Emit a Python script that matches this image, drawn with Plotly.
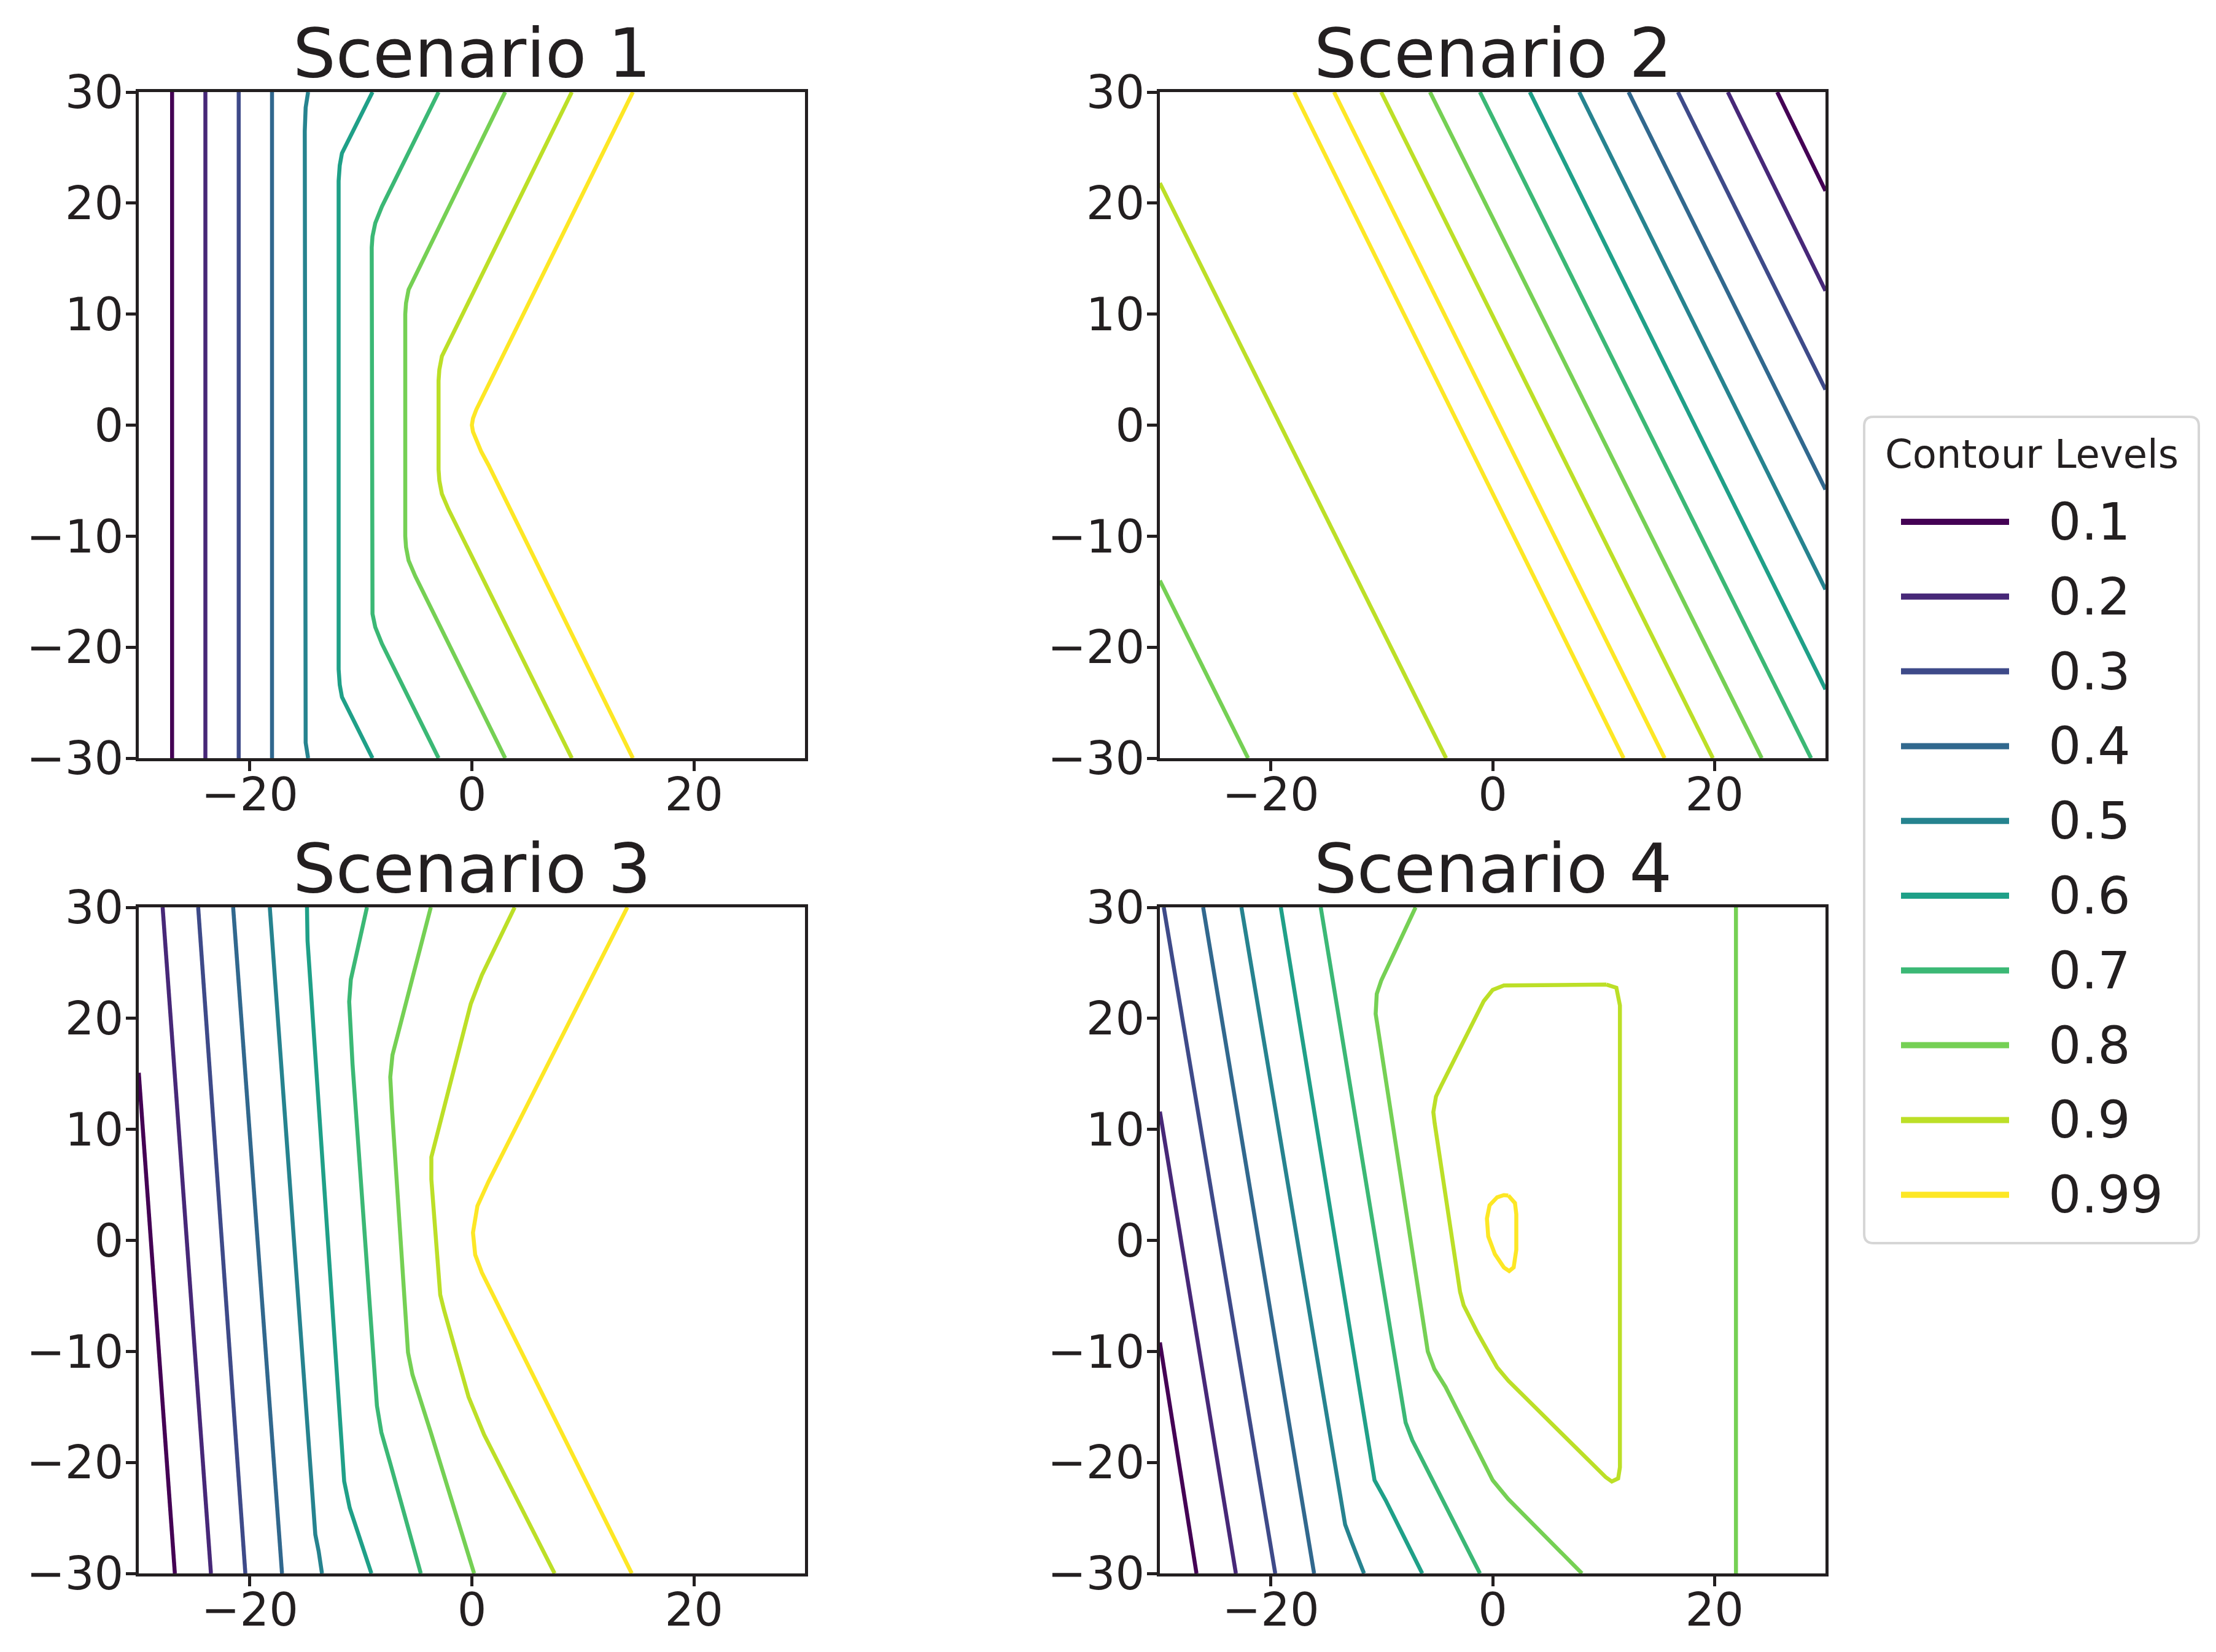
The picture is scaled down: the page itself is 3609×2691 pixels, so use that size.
import plotly.graph_objects as go

# ---------------- data ----------------
LEVELS = [0.1, 0.2, 0.3, 0.4, 0.5, 0.6, 0.7, 0.8, 0.9, 0.99]
LEVEL_LABELS = ["0.1", "0.2", "0.3", "0.4", "0.5", "0.6", "0.7", "0.8", "0.9", "0.99"]
LEGEND_TITLE = "Contour Levels"
TITLES = ["Scenario 1", "Scenario 2", "Scenario 3", "Scenario 4"]
X_TICK_VALUES = [-20, 0, 20]
X_TICK_TEXT = ["−20", "0", "20"]
Y_TICK_VALUES = [-30, -20, -10, 0, 10, 20, 30]
Y_TICK_TEXT = ["−30", "−20", "−10", "0", "10", "20", "30"]
AXIS_RANGE = [-30, 30]

# each contour path: (level, x values, y values)
SCENARIO_1 = [
    (0.1, [-27.0, -27.0], [30, -30]),
    (0.2, [-24.0, -24.0], [30, -30]),
    (0.3, [-21.0, -21.0], [30, -30]),
    (0.4, [-18.0, -18.0], [30, -30]),
    (0.5, [-14.75, -14.97, -15.05, -15.05, -14.97, -14.75], [30, 28.6, 26.5, -26.5, -28.6, -30]),
    (0.6, [-8.95, -11.7, -11.9, -12.0, -12.0, -11.9, -11.7, -8.95], [30, 24.5, 23.4, 22.0, -22.0, -23.4, -24.5, -30]),
    (0.7, [-3.0, -8.1, -8.7, -8.95, -9.02, -9.02, -8.95, -8.7, -8.1, -3.0], [30, 19.7, 18.2, 17.0, 16.0, -16.0, -17.0, -18.2, -19.7, -30]),
    (0.8, [3.0, -5.1, -5.7, -5.93, -6.0, -6.0, -5.93, -5.7, -5.1, 3.0], [30, 13.6, 12.2, 11.0, 10.0, -10.0, -11.0, -12.2, -13.6, -30]),
    (0.9, [9.0, -2.1, -2.7, -2.93, -3.0, -3.0, -2.93, -2.7, -2.1, 9.0], [30, 7.6, 6.2, 5.0, 4.0, -4.0, -5.0, -6.2, -7.6, -30]),
    (0.99, [14.5, 1.5, 0.85, 0.4, 0.1, 0.0, 0.1, 0.4, 0.85, 1.5, 14.5], [30, 3.6, 2.4, 1.4, 0.6, 0.0, -0.6, -1.4, -2.4, -3.6, -30]),
]

SCENARIO_2 = [
    (0.99, [-17.9, 11.8], [30, -30]),
    (0.99, [-14.3, 15.5], [30, -30]),
    (0.9, [-30.0, -4.2], [21.8, -30]),
    (0.9, [-10.05, 19.85], [30, -30]),
    (0.8, [-30.0, -22.05], [-14.0, -30]),
    (0.8, [-5.65, 24.25], [30, -30]),
    (0.7, [-1.15, 28.7], [30, -30]),
    (0.6, [3.35, 30.0], [30, -23.8]),
    (0.5, [7.8, 30.0], [30, -14.8]),
    (0.4, [12.25, 30.0], [30, -5.8]),
    (0.3, [16.7, 30.0], [30, 3.2]),
    (0.2, [21.2, 30.0], [30, 12.1]),
    (0.1, [25.65, 30.0], [30, 21.1]),
]

SCENARIO_3 = [
    (0.1, [-30.0, -26.75], [15.1, -30]),
    (0.2, [-27.85, -23.5], [30, -30]),
    (0.3, [-24.65, -20.4], [30, -30]),
    (0.4, [-21.5, -17.1], [30, -30]),
    (0.5, [-18.2, -14.1, -13.8, -13.5], [30, -26.5, -28.0, -30]),
    (0.6, [-14.85, -14.8, -11.5, -11.0, -9.05], [30, 27.0, -21.7, -24.1, -30]),
    (0.7, [-9.45, -10.9, -11.05, -10.75, -8.55, -8.15, -7.35, -4.6], [30, 23.5, 21.5, 15.9, -14.9, -17.3, -20.1, -30]),
    (0.8, [-3.7, -7.15, -7.35, -7.2, -5.75, -5.35, -3.7, 0.2], [30, 16.7, 14.7, 11.9, -10.1, -12.1, -17.3, -30]),
    (0.9, [3.85, 0.9, -0.1, -3.3, -3.65, -3.65, -2.85, -2.5, -0.3, 1.1, 7.45], [30, 23.9, 21.3, 8.7, 7.5, 5.5, -4.9, -6.3, -14.1, -17.5, -30]),
    (0.99, [14.0, 1.5, 0.5, 0.1, 0.3, 0.9, 14.4], [30, 5.3, 3.1, 0.7, -1.3, -2.9, -30]),
]

SCENARIO_4 = [
    (0.1, [-30.0, -26.7], [-9.2, -30]),
    (0.2, [-30.0, -23.15], [11.6, -30]),
    (0.3, [-29.65, -19.6], [30, -30]),
    (0.4, [-26.1, -16.1], [30, -30]),
    (0.5, [-22.65, -13.3, -12.7, -11.6], [30, -25.6, -27.2, -30]),
    (0.6, [-19.1, -10.65, -9.65, -6.35], [30, -21.6, -23.4, -30]),
    (0.7, [-15.5, -7.85, -7.25, -1.15], [30, -16.4, -18.0, -30]),
    (0.8, [-6.95, -10.05, -10.45, -10.55, -5.85, -5.25, -4.25, 0.0, 1.4, 8.05], [30, 23.4, 22.2, 20.4, -10.0, -11.6, -13.2, -21.6, -23.3, -30]),
    (0.8, [21.93, 21.93], [30, -30]),
    (0.9, [10.26, 11.15, 11.47, 11.47, 11.31, 10.74, 10.18, 1.41, 0.4, -1.41, -2.62, -2.94, -5.23, -5.35, -5.11, -4.63, -0.8, 0.0, 1.01, 10.26],
          [23.04, 22.76, 21.16, -20.44, -21.44, -21.72, -21.32, -12.64, -11.44, -8.24, -5.84, -4.64, 10.56, 11.56, 12.96, 13.96, 21.56, 22.56, 22.96, 23.04]),
    (0.99, [1.41, 2.01, 2.13, 2.13, 1.89, 1.49, 1.01, 0.2, -0.4, -0.52, -0.28, 0.4, 1.01, 1.41],
           [4.04, 3.36, 2.36, -0.84, -2.44, -2.76, -2.44, -1.24, 0.36, 1.96, 3.16, 3.88, 4.08, 4.04]),
]

SCENARIOS = [SCENARIO_1, SCENARIO_2, SCENARIO_3, SCENARIO_4]

# ---------------- styles / layout ----------------
W, H = 3609, 2691
FONT = "DejaVu Sans"
INK = "#231f20"
LEVEL_COLORS = ["#440154", "#472878", "#3e4a89", "#31688e", "#26838f",
                "#1fa088", "#3bb875", "#75d054", "#bcdf27", "#fde725"]
PANELS_PX = [(226, 1311, 150, 1235), (1889, 2973, 150, 1235),
             (226, 1311, 1478, 2563), (1889, 2973, 1478, 2563)]
LINE_W = 6.5


def px_x(px):
    return px / W


def px_y(py):
    return 1 - py / H


fig = go.Figure()

for i, (paths, (x0, x1, y0, y1)) in enumerate(zip(SCENARIOS, PANELS_PX)):
    n = "" if i == 0 else str(i + 1)
    for level, xs, ys in paths:
        k = LEVELS.index(level)
        fig.add_trace(go.Scatter(
            x=xs, y=ys, mode="lines",
            line=dict(color=LEVEL_COLORS[k], width=LINE_W),
            name=LEVEL_LABELS[k], showlegend=False,
            xaxis="x" + n, yaxis="y" + n,
        ))
    common = dict(range=AXIS_RANGE, autorange=False, automargin=False,
                  showgrid=False, zeroline=False,
                  showline=True, linecolor=INK, linewidth=4.5, mirror=True,
                  ticks="outside", ticklen=16, tickwidth=4.5, tickcolor=INK,
                  tickfont=dict(family=FONT, size=75, color=INK))
    fig.update_layout(**{
        "xaxis" + n: dict(domain=[px_x(x0), px_x(x1)], anchor="y" + n,
                          tickvals=X_TICK_VALUES, ticktext=X_TICK_TEXT,
                          ticklabelstandoff=-26, **common),
        "yaxis" + n: dict(domain=[px_y(y1), px_y(y0)], anchor="x" + n,
                          tickvals=Y_TICK_VALUES, ticktext=Y_TICK_TEXT,
                          ticklabelstandoff=-11, **common),
    })
    # subplot title
    fig.add_annotation(text=TITLES[i], xref="paper", yref="paper",
                       x=px_x((x0 + x1) / 2), y=px_y(y0 - 63), xanchor="center", yanchor="middle",
                       showarrow=False, font=dict(family=FONT, size=110, color=INK))

# ---------------- legend (drawn manually) ----------------
LX0, LX1, LY0, LY1, R = 3036, 3581, 679, 2025, 15
ax0, ax1 = px_x(LX0), px_x(LX1)
ay0, ay1 = px_y(LY0), px_y(LY1)
rx, ry = R / W, R / H
path = (f"M {ax0 + rx},{ay0} L {ax1 - rx},{ay0} Q {ax1},{ay0} {ax1},{ay0 - ry} "
        f"L {ax1},{ay1 + ry} Q {ax1},{ay1} {ax1 - rx},{ay1} "
        f"L {ax0 + rx},{ay1} Q {ax0},{ay1} {ax0},{ay1 + ry} "
        f"L {ax0},{ay0 - ry} Q {ax0},{ay0} {ax0 + rx},{ay0} Z")
fig.add_shape(type="path", path=path, xref="paper", yref="paper",
              line=dict(color="#d6d6d6", width=4), fillcolor="rgba(255,255,255,0.8)", layer="above")
fig.add_annotation(text=LEGEND_TITLE, xref="paper", yref="paper",
                   x=px_x((LX0 + LX1) / 2), y=px_y(740), xanchor="center", yanchor="middle",
                   showarrow=False, font=dict(family=FONT, size=64, color=INK))
for k, lab in enumerate(LEVEL_LABELS):
    yy = px_y(850 + k * 121.8)
    fig.add_shape(type="line", xref="paper", yref="paper",
                  x0=px_x(3096), x1=px_x(3272), y0=yy, y1=yy,
                  line=dict(color=LEVEL_COLORS[k], width=10), layer="above")
    fig.add_annotation(text=lab, xref="paper", yref="paper",
                       x=px_x(3334), y=yy, xanchor="left", yanchor="middle",
                       showarrow=False, font=dict(family=FONT, size=84, color=INK))

fig.update_layout(width=W, height=H, autosize=False,
                  margin=dict(l=0, r=0, t=0, b=0),
                  paper_bgcolor="white", plot_bgcolor="white",
                  showlegend=False, font=dict(family=FONT, color=INK))

fig.write_html("out.html")
